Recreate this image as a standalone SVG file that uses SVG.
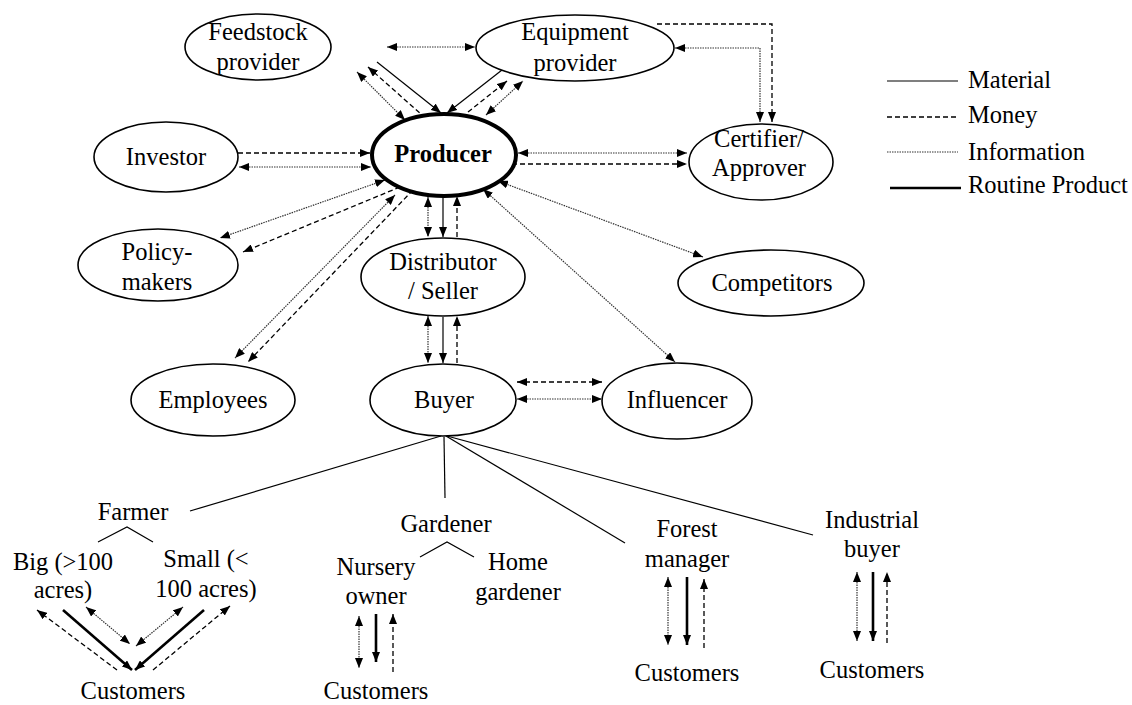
<svg xmlns="http://www.w3.org/2000/svg" width="1132" height="705" viewBox="0 0 1132 705">
<defs>
<marker id="ah" viewBox="0 0 10 8" refX="10" refY="4" markerWidth="10" markerHeight="8" markerUnits="userSpaceOnUse" orient="auto-start-reverse"><path d="M0,0 L10,4 L0,8 z" fill="#000"/></marker>
<style>
text{font-family:"Liberation Serif","Times New Roman",serif;font-size:24.5px;fill:#000;text-anchor:middle}
.nd{fill:#fff;stroke:#000;stroke-width:1.6}
.mat{fill:none;stroke:#000;stroke-width:1.2}
.mon{fill:none;stroke:#000;stroke-width:1.3;stroke-dasharray:5 3}
.inf{fill:none;stroke:#333;stroke-width:1.2;stroke-dasharray:1.5 1}
.rtn{fill:none;stroke:#000;stroke-width:2.6}
.e{marker-end:url(#ah)}
.s{marker-start:url(#ah)}
</style>
</defs>
<rect width="1132" height="705" fill="#fff"/>
<g id="connectors">
<line class="inf s e" x1="387" y1="47" x2="475" y2="47"/>
<line class="inf s e" x1="357" y1="72" x2="405" y2="120"/>
<line class="mon s" x1="368" y1="67" x2="422" y2="115"/>
<line class="mat e" x1="377" y1="62" x2="441" y2="113"/>
<line class="mat e" x1="502" y1="70" x2="447" y2="113"/>
<line class="mon e" x1="468" y1="112" x2="507" y2="81"/>
<line class="inf s e" x1="486" y1="115" x2="523" y2="81"/>
<polyline class="inf s e" points="675,48 760,48 760,122"/>
<polyline class="mon e" points="657,24 772,24 772,122"/>
<line class="inf s e" x1="518" y1="153" x2="687" y2="153"/>
<line class="mon e" x1="512" y1="164" x2="687" y2="164"/>
<line class="mon e" x1="238" y1="153" x2="370" y2="153"/>
<line class="inf s e" x1="239" y1="167" x2="371" y2="167"/>
<line class="inf s e" x1="385" y1="180" x2="220" y2="238"/>
<line class="mon e" x1="400" y1="187" x2="243" y2="252"/>
<line class="inf s e" x1="395" y1="195" x2="235" y2="358"/>
<line class="mon e" x1="413" y1="190" x2="248" y2="362"/>
<line class="inf s e" x1="428" y1="197" x2="428" y2="237"/>
<line class="mat e" x1="443" y1="197" x2="443" y2="237"/>
<line class="mon e" x1="457" y1="237" x2="457" y2="196"/>
<line class="inf s e" x1="428" y1="316" x2="428" y2="363"/>
<line class="mat e" x1="443" y1="317" x2="443" y2="363"/>
<line class="mon e" x1="457" y1="363" x2="457" y2="316"/>
<line class="inf s e" x1="498" y1="181" x2="703" y2="257"/>
<line class="inf s e" x1="483" y1="189" x2="675" y2="362"/>
<line class="mon s e" x1="517" y1="382" x2="602" y2="382"/>
<line class="inf s e" x1="517" y1="399" x2="602" y2="399"/>
<line class="mat" x1="441" y1="436" x2="190" y2="511"/>
<line class="mat" x1="444" y1="437" x2="445" y2="498"/>
<line class="mat" x1="446" y1="436" x2="625" y2="543"/>
<line class="mat" x1="447" y1="436" x2="813" y2="535"/>
<polyline class="mat" points="98,542 127,527 153,542"/>
<polyline class="mat" points="420,557 447,542 474,557"/>
<line class="mon e" x1="117" y1="670" x2="37" y2="610"/>
<line class="rtn e" x1="63" y1="610" x2="132" y2="670"/>
<line class="inf s e" x1="86" y1="607" x2="130" y2="644"/>
<line class="inf s e" x1="136" y1="646" x2="183" y2="607"/>
<line class="rtn e" x1="204" y1="610" x2="135" y2="670"/>
<line class="mon e" x1="153" y1="670" x2="230" y2="606"/>
<line class="inf s e" x1="359" y1="616" x2="359" y2="668"/>
<line class="rtn e" x1="376" y1="614" x2="376" y2="662"/>
<line class="mon e" x1="393" y1="672" x2="393" y2="614"/>
<line class="inf s e" x1="668" y1="577" x2="668" y2="645"/>
<line class="rtn e" x1="687" y1="577" x2="687" y2="645"/>
<line class="mon e" x1="704" y1="648" x2="704" y2="579"/>
<line class="inf s e" x1="857" y1="572" x2="857" y2="641"/>
<line class="rtn e" x1="873" y1="572" x2="873" y2="641"/>
<line class="mon e" x1="887" y1="643" x2="887" y2="572"/>
</g>
<g id="feedstock"><ellipse class="nd" cx="258" cy="47" rx="73" ry="33"/><text x="258" y="40">Feedstock</text><text x="258" y="70">provider</text></g>
<g id="equipment"><ellipse class="nd" cx="575" cy="48" rx="99" ry="33"/><text x="575" y="40">Equipment</text><text x="575" y="71">provider</text></g>
<g id="investor"><ellipse class="nd" cx="166" cy="157" rx="72" ry="35"/><text x="166" y="165">Investor</text></g>
<g id="producer"><ellipse cx="444" cy="155" rx="72" ry="41" fill="#fff" stroke="#000" stroke-width="4"/><text x="443" y="162" font-weight="bold">Producer</text></g>
<g id="certifier"><ellipse class="nd" cx="761" cy="162" rx="72" ry="38"/><text x="759" y="147">Certifier/</text><text x="759" y="176">Approver</text></g>
<g id="policy"><ellipse class="nd" cx="158" cy="265" rx="80" ry="36"/><text x="157" y="260">Policy-</text><text x="157" y="290">makers</text></g>
<g id="distributor"><ellipse class="nd" cx="443" cy="277" rx="82" ry="39"/><text x="443" y="270">Distributor</text><text x="443" y="299">/ Seller</text></g>
<g id="competitors"><ellipse class="nd" cx="771" cy="283" rx="93" ry="33"/><text x="772" y="291">Competitors</text></g>
<g id="employees"><ellipse class="nd" cx="213" cy="400" rx="82" ry="36"/><text x="213" y="408">Employees</text></g>
<g id="buyer"><ellipse class="nd" cx="443" cy="400" rx="73" ry="36"/><text x="444" y="408">Buyer</text></g>
<g id="influencer"><ellipse class="nd" cx="677" cy="401" rx="75" ry="38"/><text x="677" y="408">Influencer</text></g>
<g id="farmer"><text x="133" y="520">Farmer</text></g>
<g id="big"><text x="63" y="570">Big (&gt;100</text><text x="63" y="598">acres)</text></g>
<g id="small"><text x="206" y="567">Small (&lt;</text><text x="206" y="597">100 acres)</text></g>
<g id="farmer-customers"><text x="133" y="699">Customers</text></g>
<g id="gardener"><text x="446" y="532">Gardener</text></g>
<g id="nursery"><text x="376" y="575">Nursery</text><text x="376" y="604">owner</text></g>
<g id="home"><text x="518" y="570">Home</text><text x="518" y="600">gardener</text></g>
<g id="nursery-customers"><text x="376" y="699">Customers</text></g>
<g id="forest"><text x="687" y="537">Forest</text><text x="687" y="567">manager</text></g>
<g id="forest-customers"><text x="687" y="681">Customers</text></g>
<g id="industrial"><text x="872" y="528">Industrial</text><text x="872" y="557">buyer</text></g>
<g id="industrial-customers"><text x="872" y="678">Customers</text></g>
<g id="legend">
<line class="mat" x1="887" y1="81" x2="958" y2="81"/>
<line class="mon" x1="887" y1="117" x2="958" y2="117"/>
<line class="inf" x1="887" y1="152" x2="958" y2="152"/>
<line class="rtn" x1="890" y1="188" x2="961" y2="188"/>
<text x="968" y="88" style="text-anchor:start">Material</text>
<text x="968" y="123" style="text-anchor:start">Money</text>
<text x="968" y="160" style="text-anchor:start">Information</text>
<text x="968" y="193" style="text-anchor:start">Routine Product</text>
</g>
</svg>
